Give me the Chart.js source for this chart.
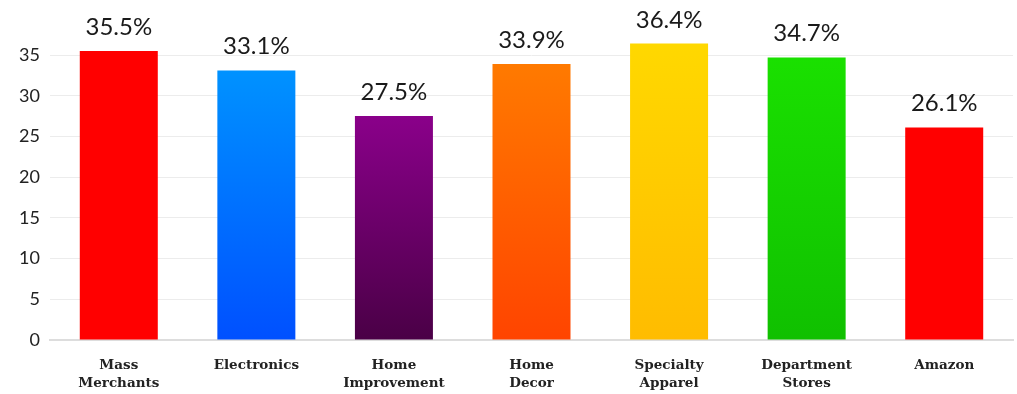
<!DOCTYPE html>
<html>
<head>
<meta charset="utf-8">
<script src="https://cdn.jsdelivr.net/npm/chart.js@4"></script>
<style>
  html, body { margin: 0; padding: 0; background: #fff; }
  #wrap { width: 1017px; height: 394px; position: relative; }
</style>
</head>
<body>
<div id="wrap"><canvas id="c"></canvas></div>
<script>
const categories = [
  ["Mass", "Merchants"],
  ["Electronics"],
  ["Home", "Improvement"],
  ["Home", "Decor"],
  ["Specialty", "Apparel"],
  ["Department", "Stores"],
  ["Amazon"]
];
const values = [35.5, 33.1, 27.5, 33.9, 36.4, 34.7, 26.1];
const valueLabels = ["35.5%", "33.1%", "27.5%", "33.9%", "36.4%", "34.7%", "26.1%"];
const topColors = ["#ff0000", "#0092ff", "#8a008a", "#ff7a00", "#ffd800", "#1ae000", "#ff0000"];
const bottomColors = ["#ff0000", "#0050ff", "#4a0046", "#ff4400", "#ffbc00", "#10c000", "#ff0000"];
const yTicks = [0, 5, 10, 15, 20, 25, 30, 35];

const labelPlugin = {
  id: 'valueLabels',
  afterDatasetsDraw(chart) {
    const ctx = chart.ctx;
    const meta = chart.getDatasetMeta(0);
    ctx.save();
    ctx.font = '24px Lato';
    ctx.fillStyle = '#1a1a1a';
    ctx.textAlign = 'center';
    ctx.textBaseline = 'alphabetic';
    meta.data.forEach((bar, i) => {
      ctx.fillText(valueLabels[i], bar.x, bar.y - 16);
    });
    ctx.restore();
  }
};

new Chart(document.getElementById('c'), {
  type: 'bar',
  data: {
    labels: categories,
    datasets: [{
      data: values,
      backgroundColor(context) {
        const chart = context.chart;
        const i = context.dataIndex;
        if (!chart.chartArea || i === undefined) return topColors[i || 0];
        const y = chart.scales.y;
        const top = y.getPixelForValue(values[i]);
        const bottom = y.getPixelForValue(0);
        const g = chart.ctx.createLinearGradient(0, top, 0, bottom);
        g.addColorStop(0, topColors[i]);
        g.addColorStop(1, bottomColors[i]);
        return g;
      },
      borderWidth: 0,
      barPercentage: 0.567,
      categoryPercentage: 1.0
    }]
  },
  options: {
    responsive: true,
    maintainAspectRatio: false,
    animation: false,
    layout: { padding: { left: 19, right: 4, top: 7, bottom: 0 } },
    plugins: { legend: { display: false }, tooltip: { enabled: false } },
    scales: {
      x: {
        grid: { display: false },
        border: { display: true, color: '#dddddd', width: 2 },
        afterFit(scale) { scale.height = 54; },
        ticks: {
          color: '#222',
          font: { family: '"DejaVu Serif"', size: 13.5, weight: 'bold', lineHeight: 1.33 },
          padding: 9,
          maxRotation: 0,
          autoSkip: false
        }
      },
      y: {
        min: 0,
        max: 39.2,
        afterBuildTicks(scale) {
          scale.ticks = yTicks.map(v => ({ value: v }));
        },
        afterFit(scale) { scale.width = 31; },
        grid: { color: '#ececec', lineWidth: 1, drawTicks: false },
        border: { display: false },
        ticks: {
          color: '#222',
          font: { family: 'Lato', size: 18 },
          padding: 10
        }
      }
    }
  },
  plugins: [labelPlugin]
});
</script>
</body>
</html>
